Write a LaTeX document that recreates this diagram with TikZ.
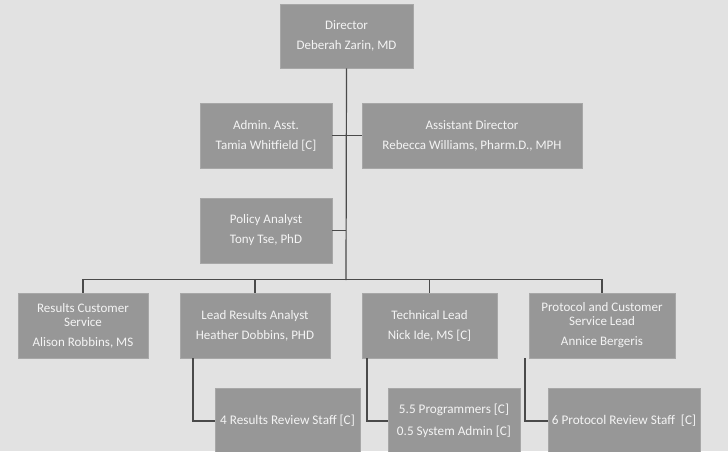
\documentclass[tikz,border=0pt]{standalone}
\usepackage{fontspec}
\setmainfont{Carlito}
\frenchspacing
\definecolor{pagebg}{HTML}{E2E2E2}
\definecolor{boxfill}{HTML}{979797}
\definecolor{boxtext}{HTML}{F4F4F4}
\definecolor{linkline}{HTML}{4A4A4A}
\begin{document}
\begin{tikzpicture}[x=1pt,y=-1pt,
  orgbox/.style={fill=boxfill, draw=boxfill!85!white, line width=0.6pt,
    text=boxtext, align=center, inner sep=1pt,
    font=\fontsize{13}{14}\selectfont},
  staffbox/.style={orgbox, font=\fontsize{13.2}{14}\selectfont},
  link/.style={draw=linkline, line width=1.2pt}]
\useasboundingbox (0,0) rectangle (728,451);
\fill[pagebg] (0,0) rectangle (728,451);
\clip (0,0) rectangle (728,451);

% top of the chart
\node[orgbox, minimum width=133pt, minimum height=64pt] (dir) at (346.5,36)
  {Director\\[6pt]Deberah Zarin, MD};
\node[orgbox, minimum width=132pt, minimum height=65pt] (adm) at (266,135.5)
  {Admin.\ Asst.\\[6pt]Tamia Whitfield [C]};
\node[orgbox, minimum width=220pt, minimum height=65pt] (asst) at (472,135.5)
  {Assistant Director\\[6pt]Rebecca Williams, Pharm.D., MPH};
\node[orgbox, minimum width=132pt, minimum height=65pt] (pol) at (266,230.5)
  {Policy Analyst\\[6pt]Tony Tse, PhD};

% leads row
\node[orgbox, minimum width=130pt, minimum height=65pt] (rcs) at (83,325.5)
  {Results Customer\\Service\\[6pt]Alison Robbins, MS};
\node[orgbox, minimum width=150pt, minimum height=65pt] (lra) at (255,325.5)
  {Lead Results Analyst\\[6pt]Heather Dobbins, PHD};
\node[orgbox, minimum width=135pt, minimum height=65pt] (tl) at (429.5,325.5)
  {Technical Lead\\[6pt]Nick Ide, MS [C]};
\node[orgbox, minimum width=146pt, minimum height=65pt] (pcs) at (602,325.5)
  {Protocol and Customer\\Service Lead\\[6pt]Annice Bergeris};

% staff row
\node[staffbox, minimum width=145pt, minimum height=66pt] (st1) at (287.5,421)
  {4 Results Review Staff [C]};
\node[staffbox, minimum width=132pt, minimum height=66pt] (st2) at (454,421)
  {5.5 Programmers [C]\\[8pt]0.5 System Admin [C]};
\node[staffbox, minimum width=152pt, minimum height=66pt] (st3) at (624,421)
  {6 Protocol Review Staff~~[C]};

% connectors
\coordinate (hub) at (346,280);
\draw[link] (dir.south) -- (hub);
\draw[link] (adm.east) -- (asst.west);
\draw[link] (pol.east) -- (pol.east -| hub);
\draw[link] (rcs.north) -- ++(0,-13) -| (pcs.north);
\draw[link] (lra.north) -- (lra.north |- hub);
\draw[link] (tl.north) -- (tl.north |- hub);
\draw[link] ([xshift=-62pt]lra.south) |- (st1.west);
\draw[link] ([xshift=-62.5pt]tl.south) |- (st2.west);
\draw[link] ([xshift=-77pt]pcs.south) |- (st3.west);
\end{tikzpicture}
\end{document}
